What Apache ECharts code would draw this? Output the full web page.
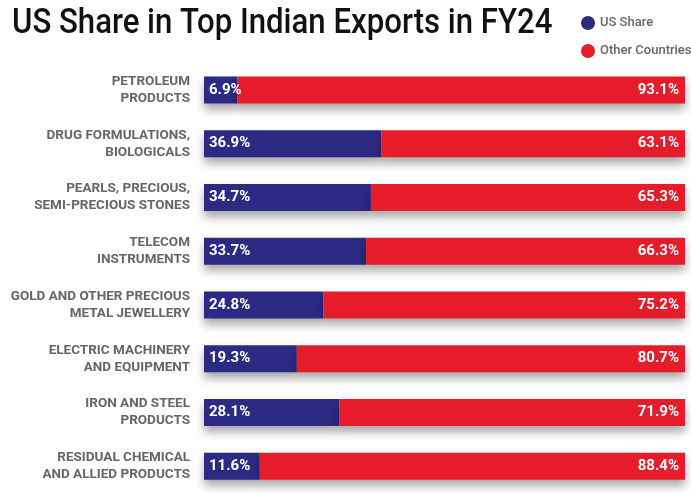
<!DOCTYPE html>
<html>
<head>
<meta charset="utf-8">
<script src="https://cdn.jsdelivr.net/npm/echarts@6/dist/echarts.min.js"></script>
<style>
    html, body { margin: 0; padding: 0; background: #fff; }
    #main { width: 691px; height: 493px; }
</style>
</head>
<body>
<div id="main"></div>
<script>
    var categories = [
        'PETROLEUM\nPRODUCTS',
        'DRUG FORMULATIONS,\nBIOLOGICALS',
        'PEARLS, PRECIOUS,\nSEMI-PRECIOUS STONES',
        'TELECOM\nINSTRUMENTS',
        'GOLD AND OTHER PRECIOUS\nMETAL JEWELLERY',
        'ELECTRIC MACHINERY\nAND EQUIPMENT',
        'IRON AND STEEL\nPRODUCTS',
        'RESIDUAL CHEMICAL\nAND ALLIED PRODUCTS'
    ];
    var usShare = [6.9, 36.9, 34.7, 33.7, 24.8, 19.3, 28.1, 11.6];
    var otherShare = [93.1, 63.1, 65.3, 66.3, 75.2, 80.7, 71.9, 88.4];

    var shadow = {
        shadowColor: 'rgba(0,0,0,0.35)',
        shadowBlur: 10,
        shadowOffsetY: 6
    };

    var chart = echarts.init(document.getElementById('main'));
    chart.setOption({
        backgroundColor: '#fff',
        animation: false,
        // title drawn as graphic so it can be squeezed like the condensed original
        graphic: [{
            type: 'text',
            x: 12,
            y: 7,
            scaleX: 0.89,
            style: {
                text: 'US Share in Top Indian Exports in FY24',
                fontFamily: 'Roboto',
                fontWeight: 500,
                fontSize: 35,
                fill: '#111'
            }
        }],
        color: ['#2d2a84', '#e71c2b'],
        legend: {
            orient: 'vertical',
            left: 576,
            top: 11,
            itemGap: 14,
            itemWidth: 14,
            itemHeight: 14,
            icon: 'circle',
            textStyle: {
                fontFamily: 'Roboto',
                fontWeight: 500,
                fontSize: 13,
                color: '#666'
            },
            data: ['US Share', 'Other Countries']
        },
        grid: {
            left: 204,
            right: 6,
            top: 63,
            bottom: -8
        },
        xAxis: {
            type: 'value',
            min: 0,
            max: 100,
            show: false
        },
        yAxis: {
            type: 'category',
            inverse: true,
            data: categories,
            axisLine: { show: false },
            axisTick: { show: false },
            axisLabel: {
                margin: 14,
                align: 'right',
                fontFamily: 'Roboto',
                fontWeight: 'bold',
                fontSize: 13.5,
                lineHeight: 17,
                color: '#666'
            }
        },
        series: [{
            name: 'US Share',
            type: 'bar',
            stack: 'total',
            barWidth: 27,
            itemStyle: shadow,
            label: {
                show: true,
                position: 'insideLeft',
                distance: 5,
                formatter: '{c}%',
                color: '#fff',
                fontFamily: 'Roboto',
                fontWeight: 'bold',
                fontSize: 15
            },
            data: usShare
        }, {
            name: 'Other Countries',
            type: 'bar',
            stack: 'total',
            barWidth: 27,
            itemStyle: shadow,
            label: {
                show: true,
                position: 'insideRight',
                distance: 6,
                formatter: '{c}%',
                color: '#fff',
                fontFamily: 'Roboto',
                fontWeight: 'bold',
                fontSize: 15
            },
            data: otherShare
        }]
    });
</script>
</body>
</html>
